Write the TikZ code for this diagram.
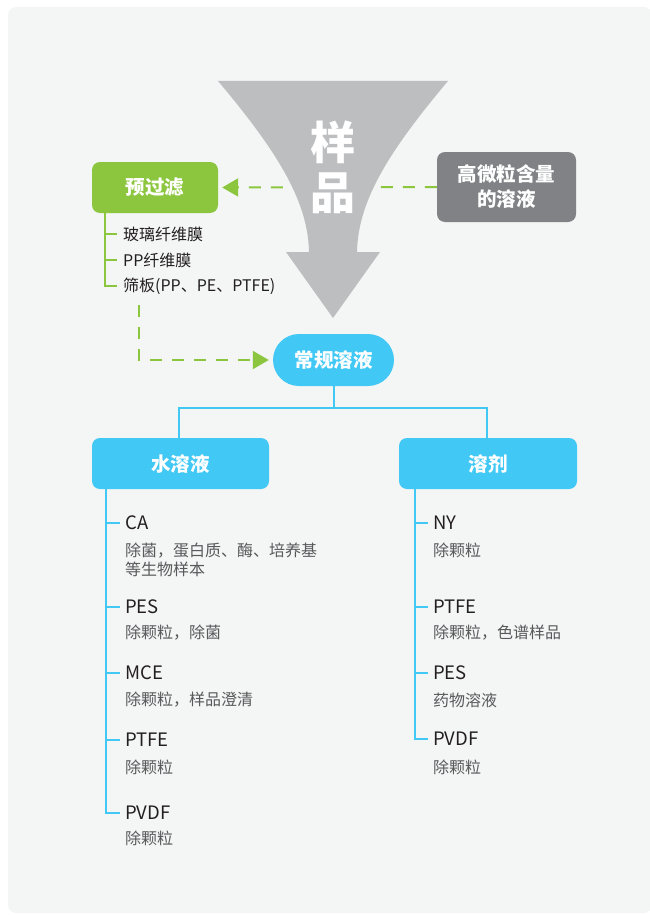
\documentclass[tikz,border=0pt]{standalone}
\usepackage{fontspec}
\setmainfont{Noto Sans CJK SC}
\usetikzlibrary{arrows.meta,positioning}

\definecolor{cbg}{HTML}{F4F6F5}
\definecolor{cgreen}{HTML}{8CC63F}
\definecolor{cblue}{HTML}{42C8F5}
\definecolor{cgraybox}{HTML}{808285}
\definecolor{cfunnel}{HTML}{BCBEC0}
\definecolor{ctitle}{HTML}{231F20}
\definecolor{cdesc}{HTML}{58595B}

\tikzset{
  box/.style={rounded corners=8pt, minimum height=51pt, inner sep=0pt, text=white,
    font=\fontsize{19.5}{23}\selectfont\bfseries},
  pill/.style={box, rounded corners=26pt, minimum height=52pt},
  gline/.style={draw=cgreen, line width=2pt},
  bline/.style={draw=cblue, line width=2pt},
  garrow/.style={gline, dash pattern=on 12pt off 10pt,
    -{Triangle[length=16pt, width=18pt, fill=cgreen]}, shorten >=4pt},
  itemtxt/.style={anchor=west, inner sep=0pt, text=ctitle, font=\fontsize{16}{19}\selectfont},
  titletxt/.style={anchor=west, inner sep=0pt, text=ctitle, font=\fontsize{18.5}{22}\selectfont},
  desctxt/.style={anchor=west, inner sep=0pt, text=cdesc, align=left,
    font=\fontsize{16}{19}\selectfont},
}

\begin{document}
\begin{tikzpicture}[x=1pt, y=-1pt, line cap=butt, line join=miter]

  %% ════ 背景 ════
  \fill[cbg, rounded corners=8pt] (8,7) rectangle (652,913);

  %% ════ 方框 ════
  \node[box, fill=cgreen, minimum width=126pt] (pre) at (155,187.5) {预过滤};
  \node[box, fill=cgraybox, minimum width=139pt, minimum height=70pt, align=center,
        font=\fontsize{19.5}{25}\selectfont\bfseries] (high) at (506.5,187) {高微粒含量\\的溶液};
  \node[pill, fill=cblue, minimum width=121pt] (conv) at (333.5,360) {常规溶液};
  \node[box, fill=cblue, minimum width=177pt] (water) at (180.5,463.5) {水溶液};
  \node[box, fill=cblue, minimum width=178pt] (solv) at (488,463.5) {溶剂};

  %% ════ 虚线箭头（漏斗压在上面）════
  \coordinate (dstart) at (139,305);
  \draw[garrow] (high.west) -- (pre.east);
  \draw[garrow] (dstart) |- (conv.west);

  %% ════ 漏斗 + 样品 ════
  \fill[cfunnel] (218,81) -- (448,81)
    .. controls (390,150) and (358,200) .. (357,252) -- (380,252) -- (333,318)
    -- (286,252) -- (309,252) .. controls (308,200) and (276,150) .. (218,81) -- cycle;
  \node[align=center, inner sep=0pt, text=white,
        font=\fontsize{45}{50}\selectfont\bfseries] (sample) at (333,167) {样\\品};

  %% ════ 预过滤 列表 ════
  \node[itemtxt] (glass) at (123,234) {玻璃纤维膜};
  \node[itemtxt] (ppf)   at (123,260) {PP纤维膜};
  \node[itemtxt] (sieve) at (123,286) {筛板(PP、PE、PTFE)};
  \draw[gline] ([xshift=13pt]pre.south west) |- ([xshift=-6pt]sieve.west);
  \draw[gline] (glass.west -| 105,0) -- ([xshift=-6pt]glass.west);
  \draw[gline] (ppf.west -| 105,0) -- ([xshift=-6pt]ppf.west);

  %% ════ 树 ════
  \draw[bline] (conv.south) -- ++(0,22) coordinate (fork);
  \draw[bline] (fork) -| ([xshift=-1.5pt]water.north);
  \draw[bline] (fork) -| ([xshift=-1pt]solv.north);

  %% ════ 水溶液 列表 ════
  \node[titletxt] (ca)    at (125,523) {CA};
  \node[desctxt]  (cad)   at (125,559.5) {除菌，蛋白质、酶、培养基\\等生物样本};
  \node[titletxt] (pes)   at (125,607) {PES};
  \node[desctxt]  (pesd)  at (125,633) {除颗粒，除菌};
  \node[titletxt] (mce)   at (125,673) {MCE};
  \node[desctxt]  (mced)  at (125,700) {除颗粒，样品澄清};
  \node[titletxt] (ptfe)  at (125,740) {PTFE};
  \node[desctxt]  (ptfed) at (125,767) {除颗粒};
  \node[titletxt] (pvdf)  at (125,813) {PVDF};
  \node[desctxt]  (pvdfd) at (125,838) {除颗粒};
  \draw[bline] ([xshift=14pt]water.south west) |- ([xshift=-5pt]pvdf.west);
  \draw[bline] (ca.west -| 106,0)   -- ([xshift=-5pt]ca.west);
  \draw[bline] (pes.west -| 106,0)  -- ([xshift=-5pt]pes.west);
  \draw[bline] (mce.west -| 106,0)  -- ([xshift=-5pt]mce.west);
  \draw[bline] (ptfe.west -| 106,0) -- ([xshift=-5pt]ptfe.west);

  %% ════ 溶剂 列表 ════
  \node[titletxt] (ny)     at (433,523) {NY};
  \node[desctxt]  (nyd)    at (433,550) {除颗粒};
  \node[titletxt] (sptfe)  at (433,607) {PTFE};
  \node[desctxt]  (sptfed) at (433,633) {除颗粒，色谱样品};
  \node[titletxt] (spes)   at (433,673) {PES};
  \node[desctxt]  (spesd)  at (433,700) {药物溶液};
  \node[titletxt] (spvdf)  at (433,739) {PVDF};
  \node[desctxt]  (spvdfd) at (433,767) {除颗粒};
  \draw[bline] ([xshift=16pt]solv.south west) |- ([xshift=-5pt]spvdf.west);
  \draw[bline] (ny.west -| 415,0)    -- ([xshift=-5pt]ny.west);
  \draw[bline] (sptfe.west -| 415,0) -- ([xshift=-5pt]sptfe.west);
  \draw[bline] (spes.west -| 415,0)  -- ([xshift=-5pt]spes.west);

  % 钉死画布
  \pgfresetboundingbox
  \path[use as bounding box] (0,0) rectangle (649,915);
\end{tikzpicture}
\end{document}
